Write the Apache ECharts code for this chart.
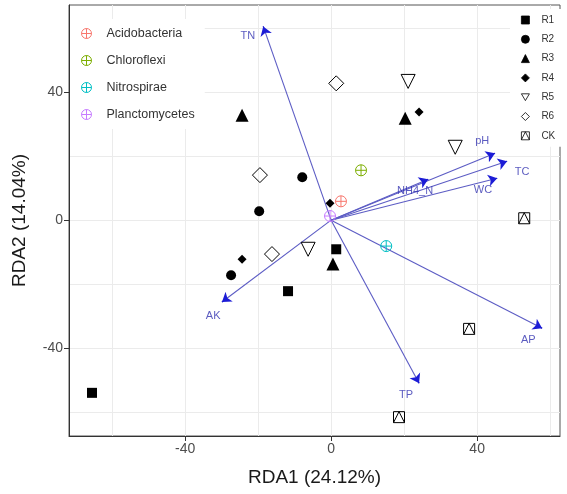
<!DOCTYPE html>
<html>
<head>
<meta charset="utf-8">
<script src="https://cdn.jsdelivr.net/npm/echarts@6/dist/echarts.min.js"></script>
<style>
  html, body { margin: 0; padding: 0; background: #fff; }
  #chart { width: 567px; height: 494px; }
</style>
</head>
<body>
<div id="chart"></div>
<script>
// sample scores (RDA1, RDA2) per group
const r1 = [[-65.5, -54.0], [-11.8, -22.2], [1.4, -9.1]];
const r2 = [[-19.7, 2.8], [-7.9, 13.4], [-27.4, -17.2]];
const r3 = [[-24.4, 32.8], [20.3, 31.9], [0.5, -13.7]];
const r4 = [[24.1, 33.8], [-0.3, 5.3], [-24.4, -12.2]];
const r5 = [[21.1, 43.4], [34.0, 22.8], [-6.3, -9.1]];
const r6 = [[1.4, 42.8], [-19.5, 14.1], [-16.2, -10.6]];
const ck = [[52.9, 0.6], [37.8, -34.0], [18.6, -61.6]];
const groupNames = ['R1', 'R2', 'R3', 'R4', 'R5', 'R6', 'CK'];

// species scores
const speciesNames = ['Acidobacteria', 'Chloroflexi', 'Nitrospirae', 'Planctomycetes'];
const speciesX = [2.7, 8.2, 15.1, -0.3];
const speciesY = [5.9, 15.6, -8.1, 1.3];

// environmental arrows (tips) and their label positions
const envNames = ['TN', 'pH', 'TC', 'WC', 'NH4_N', 'AK', 'AP', 'TP'];
const envX = [-18.6, 44.9, 48.2, 45.5, 26.6, -29.9, 57.8, 24.1];
const envY = [60.6, 20.9, 18.4, 13.1, 12.8, -25.6, -33.8, -51.0];
const envLabelX = [-22.8, 41.4, 52.3, 41.6, 23.0, -32.3, 54.0, 20.5];
const envLabelY = [57.5, 24.7, 15.0, 9.4, 9.1, -30.0, -37.5, -54.7];

const xTicks = [-40, 0, 40];
const xMinor = [-60, -20, 20, 60];
const yTicks = [-40, 0, 40];
const yMinor = [-60, -20, 20, 60];

const font = 'Liberation Sans, Arial, sans-serif';
const crossCircle = 'path://M10,0A10,10,0,1,1,-10,0A10,10,0,1,1,10,0ZM-10,0L10,0M0,-10L0,10';
const downTri = 'path://M0,10L-10,-7L10,-7Z';
const openDiamond = 'path://M0,-10L10,0L0,10L-10,0Z';
const squareTri = 'path://M-10,-10L10,-10L10,10L-10,10ZM-10,10L0,-10L10,10';
const speciesColors = ['#F8766D', '#7CAE00', '#00BFC4', '#C77CFF'];

const groupStyles = {
  R1: { symbol: 'rect', size: 10, fill: '#000' },
  R2: { symbol: 'circle', size: 10, fill: '#000' },
  R3: { symbol: 'triangle', size: 13, fill: '#000' },
  R4: { symbol: 'diamond', size: 9, fill: '#000' },
  R5: { symbol: downTri, size: 14, fill: 'rgba(0,0,0,0)' },
  R6: { symbol: openDiamond, size: 15, fill: 'rgba(0,0,0,0)' },
  CK: { symbol: squareTri, size: 11, fill: 'rgba(0,0,0,0)' }
};
const groupData = [r1, r2, r3, r4, r5, r6, ck];

const chart = echarts.init(document.getElementById('chart'));

const series = [];

// arrows: shaft
series.push({
  type: 'lines',
  coordinateSystem: 'cartesian2d',
  xAxisIndex: 0, yAxisIndex: 0,
  symbol: 'none',
  lineStyle: { color: '#5c5cc4', width: 1.1, opacity: 1 },
  data: envNames.map((n, i) => ({ coords: [[0, 0], [envX[i], envY[i]]] })),
  z: 2
});
// arrows: heads
series.push({
  type: 'lines',
  coordinateSystem: 'cartesian2d',
  xAxisIndex: 0, yAxisIndex: 0,
  symbol: ['none', 'arrow'],
  symbolSize: 9,
  lineStyle: { color: '#1c1cd6', width: 1.1, opacity: 1 },
  data: envNames.map((n, i) => ({ coords: [[envX[i] * 0.97, envY[i] * 0.97], [envX[i], envY[i]]] })),
  z: 2
});
// arrow labels
series.push({
  type: 'scatter',
  name: 'env',
  symbol: 'circle',
  symbolSize: 1,
  itemStyle: { color: 'rgba(0,0,0,0)' },
  data: envNames.map((n, i) => ({ name: n, value: [envLabelX[i], envLabelY[i]] })),
  label: {
    show: true,
    position: 'inside',
    formatter: p => p.name,
    color: '#3232b0',
    fontSize: 11,
    fontFamily: font
  },
  z: 3
});

groupNames.forEach((g, i) => {
  const st = groupStyles[g];
  series.push({
    type: 'scatter',
    name: g,
    symbol: st.symbol,
    symbolSize: st.size,
    itemStyle: { color: st.fill, borderColor: '#000', borderWidth: st.fill === '#000' ? 0 : 1, opacity: 1 },
    data: groupData[i],
    z: 4
  });
});

speciesNames.forEach((s, i) => {
  series.push({
    type: 'scatter',
    name: s,
    symbol: crossCircle,
    symbolSize: 11,
    itemStyle: { color: 'rgba(0,0,0,0)', borderColor: speciesColors[i], borderWidth: 1, opacity: 1 },
    data: [[speciesX[i], speciesY[i]]],
    z: 5
  });
});

const gridColor = '#ebebeb';

const option = {
  animation: false,
  backgroundColor: '#fff',
  grid: {
    left: 69, right: 7, top: 5, bottom: 58,
    show: true,
    borderColor: '#555',
    borderWidth: 1
  },
  legend: [
    {
      data: speciesNames,
      orient: 'vertical',
      left: 70, top: 19,
      padding: [8, 10, 8, 11],
      itemWidth: 10, itemHeight: 10,
      itemGap: 14,
      backgroundColor: '#fff',
      itemStyle: { borderWidth: 1 },
      textStyle: { fontSize: 12.5, color: '#333', fontFamily: font, padding: [0, 0, 0, 10] }
    },
    {
      data: groupNames,
      orient: 'vertical',
      left: 510, top: 9,
      padding: [6, 8, 6, 11],
      itemWidth: 8, itemHeight: 8,
      itemGap: 9.3,
      backgroundColor: '#fff',
      itemStyle: { borderWidth: 0.8 },
      textStyle: { fontSize: 10, color: '#333', fontFamily: font, padding: [0, 0, 0, 7] }
    }
  ],
  xAxis: [
    {
      type: 'value',
      min: -71.8, max: 62.7,
      name: 'RDA1 (24.12%)',
      nameLocation: 'middle',
      nameGap: 32,
      nameTextStyle: { fontSize: 19, color: '#1a1a1a', fontFamily: font },
      axisLine: { onZero: false, lineStyle: { color: '#333' } },
      axisTick: { show: true, length: 5, customValues: xTicks, lineStyle: { color: '#333' } },
      axisLabel: { customValues: xTicks, fontSize: 14, color: '#4d4d4d', margin: 6, fontFamily: font },
      splitLine: { show: true, lineStyle: { color: gridColor, width: 1 } }
    },
    {
      type: 'value',
      min: -71.8, max: 62.7,
      position: 'bottom',
      axisLine: { show: false },
      axisTick: { show: false, customValues: xMinor },
      axisLabel: { show: false, customValues: xMinor },
      splitLine: { show: true, lineStyle: { color: gridColor, width: 1 } }
    }
  ],
  yAxis: [
    {
      type: 'value',
      min: -67.5, max: 67.3,
      name: 'RDA2 (14.04%)',
      nameLocation: 'middle',
      nameGap: 40,
      nameTextStyle: { fontSize: 19, color: '#1a1a1a', fontFamily: font },
      axisLine: { show: true, onZero: false, lineStyle: { color: '#333' } },
      axisTick: { show: true, length: 5, customValues: yTicks, lineStyle: { color: '#333' } },
      axisLabel: { customValues: yTicks, fontSize: 14, color: '#4d4d4d', margin: 6, fontFamily: font },
      splitLine: { show: true, lineStyle: { color: gridColor, width: 1 } }
    },
    {
      type: 'value',
      min: -67.5, max: 67.3,
      position: 'left',
      axisLine: { show: false },
      axisTick: { show: false, customValues: yMinor },
      axisLabel: { show: false, customValues: yMinor },
      splitLine: { show: true, lineStyle: { color: gridColor, width: 1 } }
    }
  ],
  series: series
};

chart.setOption(option);
</script>
</body>
</html>
